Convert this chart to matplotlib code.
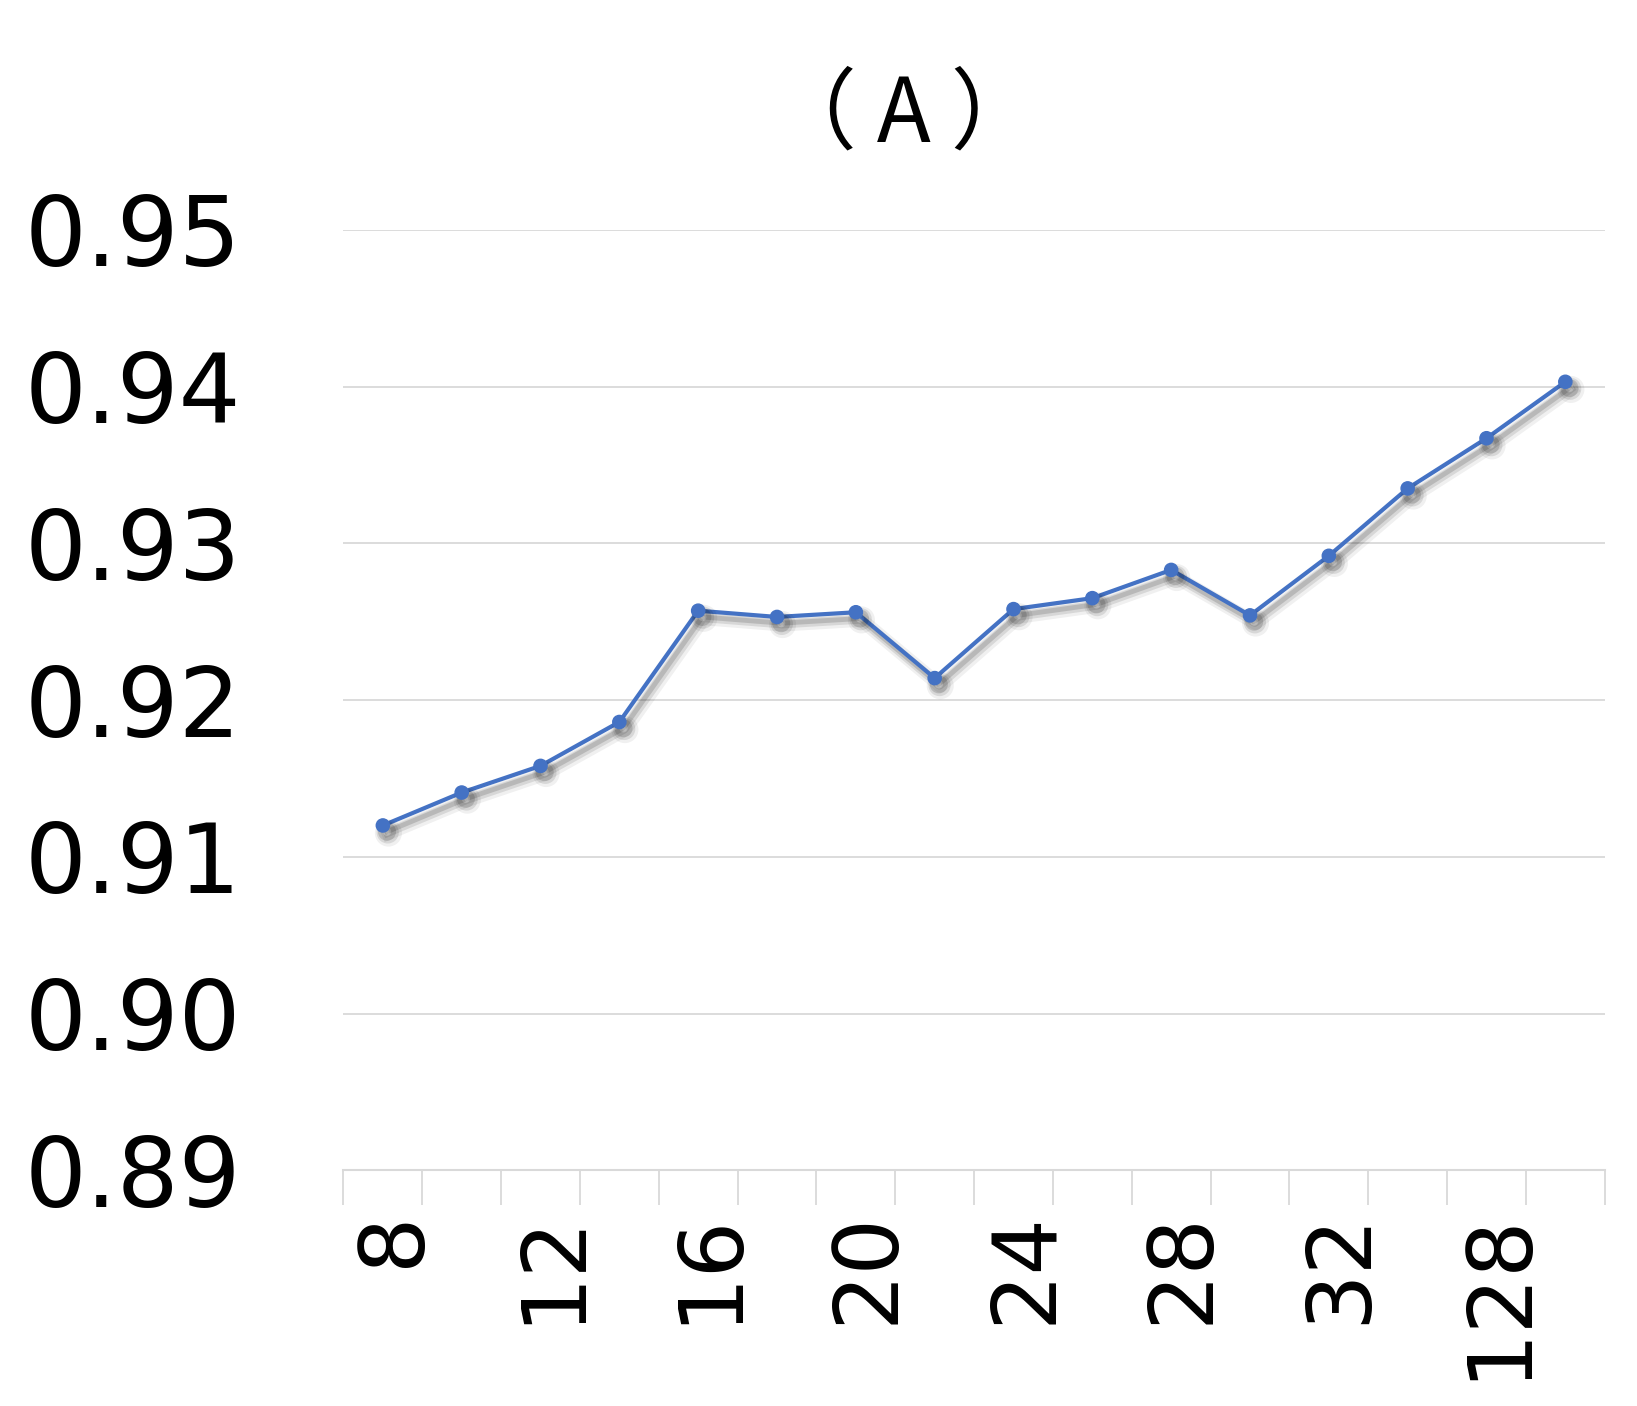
import numpy as np
import matplotlib.pyplot as plt
import matplotlib.patheffects as pe
from matplotlib.transforms import ScaledTranslation

# values (16 points, only every other category is labelled)
values = [0.9120, 0.9141, 0.9158, 0.9186, 0.9257, 0.9253, 0.9256, 0.9214,
          0.9258, 0.9265, 0.9283, 0.9254, 0.9292, 0.9335, 0.9367, 0.9403]
shown_labels = ['8', '12', '16', '20', '24', '28', '32', '128']
yticks = [0.89, 0.90, 0.91, 0.92, 0.93, 0.94, 0.95]
title = '（ A ）'

blue = '#4472C4'
grey = '#d9d9d9'

fig = plt.figure(figsize=(16.37, 14.06), dpi=100)
ax = fig.add_axes([0.2098, 0.1676, 0.9803 - 0.2098, 0.8366 - 0.1676])

x = np.arange(len(values))
# soft drop shadow like the excel one
shadow = [pe.SimpleLineShadow(offset=(4, -5.5), shadow_color='k', alpha=0.06, linewidth=10),
          pe.SimpleLineShadow(offset=(3.5, -5), shadow_color='k', alpha=0.10, linewidth=6.5),
          pe.SimpleLineShadow(offset=(3, -4.5), shadow_color='k', alpha=0.14, linewidth=3.5),
          pe.Normal()]
ax.plot(x, values, color=blue, lw=3.0, marker='o', ms=9.5, mfc=blue, mec=blue,
        path_effects=shadow, zorder=3, clip_on=False)

ax.set_xlim(-0.5, len(values) - 0.5)
ax.set_ylim(0.89, 0.95)

# y axis
ax.set_yticks(yticks)
ax.set_yticklabels(['%.2f' % v for v in yticks])
ax.tick_params(axis='y', length=0, pad=74, labelsize=70)
ax.yaxis.grid(True, color=grey, lw=1.3)
ax.set_axisbelow(True)

# x axis: tick marks on category borders, labels on every other category
ax.set_xticks(np.arange(-0.5, len(values), 1.0))
ax.set_xticklabels([])
ax.tick_params(axis='x', which='major', length=25, width=1.3, color=grey)
ax.set_xticks(x[::2], minor=True)
ax.set_xticklabels(shown_labels, minor=True, rotation=90, va='top', ha='center')
ax.tick_params(axis='x', which='minor', length=0, pad=29, labelsize=64)
off = ScaledTranslation(12 / 100, 0, fig.dpi_scale_trans)
for lab in ax.xaxis.get_minorticklabels():
    lab.set_transform(lab.get_transform() + off)

for s in ['left', 'right', 'top']:
    ax.spines[s].set_visible(False)
ax.spines['bottom'].set_color(grey)
ax.spines['bottom'].set_linewidth(1.5)

fig.text(0.552, 0.8997, title, ha='center', va='baseline', fontsize=64,
         family=['Noto Sans CJK JP', 'DejaVu Sans'])

fig.savefig('out.png', dpi=100, facecolor='white')
